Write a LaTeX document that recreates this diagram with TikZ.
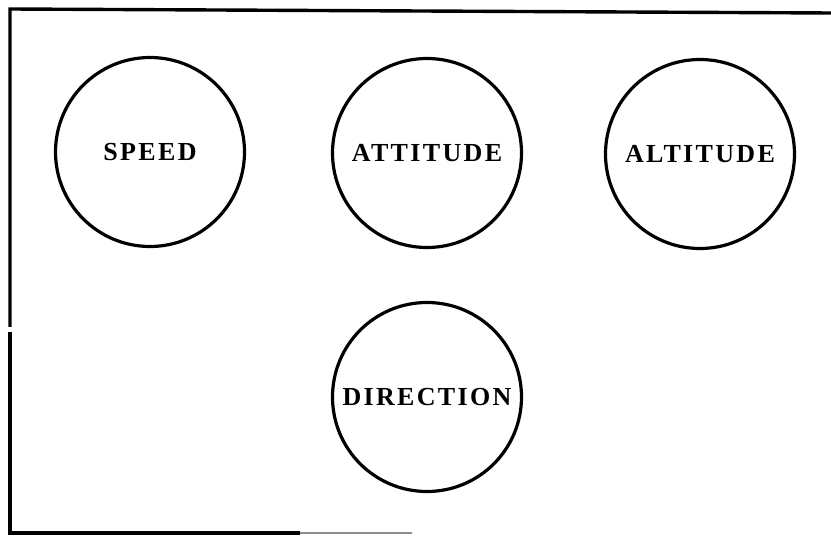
\documentclass[tikz,border=0pt]{standalone}
\usepackage{fontspec}
\setmainfont{Liberation Serif}
\newfontfamily\labelfont[LetterSpace=9]{Liberation Serif}
\begin{document}
\begin{tikzpicture}[x=1pt,y=-1pt,
  ring/.style={circle,draw=black,line width=3.2pt,minimum size=189pt,inner sep=0pt,
    font=\labelfont\bfseries\fontsize{26}{30}\selectfont},
  frameline/.style={line width=3.4pt,line cap=butt}]
\useasboundingbox (0,0) rectangle (831,537);
% frame
\coordinate (tl) at (10,9);
\coordinate (tr) at (831,13);
\coordinate (gapt) at (10,327);
\coordinate (gapb) at (10,332);
\coordinate (bl) at (10,533);
\coordinate (bm) at (300,533);
\coordinate (be) at (412,533);
\draw[frameline] (tr) -- (tl) -- (gapt);
\draw[frameline] (gapb) -- (bl) -- (bm);
\draw[line width=1.5pt,black!45] (bm) -- (be);
% circles
\node[ring] (speed) at (150,152) {SPEED};
\node[ring] (attitude) at (427,153) {ATTITUDE};
\node[ring] (altitude) at (700,154) {ALTITUDE};
\node[ring] (direction) at (427,397) {DIRECTION};
\end{tikzpicture}
\end{document}
